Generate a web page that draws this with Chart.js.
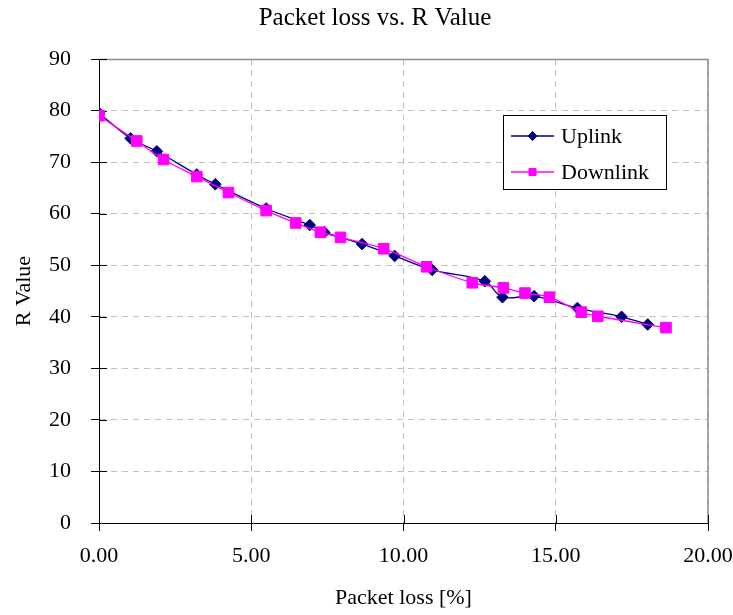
<!DOCTYPE html>
<html>
<head>
<meta charset="utf-8">
<title>Packet loss vs. R Value</title>
<script src="https://cdn.jsdelivr.net/npm/chart.js@4.4.0/dist/chart.umd.min.js"></script>
<style>
  html, body { margin: 0; padding: 0; background: #ffffff; }
  #wrap { width: 733px; height: 615px; }
</style>
</head>
<body>
<div id="wrap"><canvas id="chart" width="733" height="615"></canvas></div>
<script>
// Measured R value against packet loss, per direction
const uplinkLoss = [0.00, 1.04, 1.90, 3.21, 3.82, 5.49, 6.92, 7.40, 8.64, 9.71, 10.94, 12.67, 13.25, 14.29, 15.71, 17.16, 18.02];
const uplinkR    = [79.5, 74.6, 72.1, 67.6, 65.7, 61.0, 57.8, 56.4, 54.1, 51.8, 49.1, 46.9, 43.8, 44.0, 41.7, 40.0, 38.5];

const downlinkLoss = [0.00, 1.24, 2.12, 3.21, 4.25, 5.49, 6.46, 7.27, 7.93, 9.35, 10.76, 12.26, 13.28, 13.99, 14.79, 15.84, 16.38, 18.62];
const downlinkR    = [79.0, 74.1, 70.5, 67.2, 64.1, 60.6, 58.2, 56.4, 55.4, 53.2, 49.7, 46.6, 45.6, 44.6, 43.8, 40.9, 40.1, 37.9];

const seriesNames = ['Uplink', 'Downlink'];

const toPoints = (xs, ys) => xs.map((x, i) => ({ x: x, y: ys[i] }));

const SERIF = '"Liberation Serif", "Times New Roman", serif';
const NAVY = '#000080';
const MAGENTA = '#FF00FF';

// Frame on top/right, inward half of the tick marks, and the boxed legend
const decorations = {
  id: 'decorations',
  beforeDatasetsDraw(chart) {
    const { ctx, chartArea: a, scales } = chart;
    ctx.save();
    ctx.strokeStyle = '#8c8c8c';
    ctx.lineWidth = 1.5;
    ctx.beginPath();
    ctx.moveTo(a.left, a.top + 0.5);
    ctx.lineTo(a.right, a.top + 0.5);
    ctx.lineTo(a.right, a.bottom);
    ctx.stroke();

    ctx.strokeStyle = '#000000';
    ctx.lineWidth = 1;
    ctx.beginPath();
    scales.y.ticks.forEach(t => {
      const py = Math.round(scales.y.getPixelForValue(t.value)) + 0.5;
      ctx.moveTo(a.left, py);
      ctx.lineTo(a.left + 8, py);
    });
    scales.x.ticks.forEach(t => {
      const px = Math.round(scales.x.getPixelForValue(t.value)) + 0.5;
      ctx.moveTo(px, a.bottom);
      ctx.lineTo(px, a.bottom - 8);
    });
    ctx.stroke();
    ctx.restore();
  },
  afterDatasetsDraw(chart, args, opts) {
    const { ctx } = chart;
    const box = opts.box;
    ctx.save();
    ctx.fillStyle = '#ffffff';
    ctx.fillRect(box.x, box.y, box.w, box.h);
    ctx.strokeStyle = '#000000';
    ctx.lineWidth = 1;
    ctx.strokeRect(box.x + 0.5, box.y + 0.5, box.w, box.h);

    ctx.font = '22px ' + SERIF;
    ctx.textBaseline = 'middle';
    ctx.textAlign = 'left';
    chart.data.datasets.forEach((ds, i) => {
      const cy = box.y + opts.rowOffsets[i];
      const x0 = box.x + 8, x1 = box.x + 51;
      ctx.strokeStyle = ds.borderColor;
      ctx.lineWidth = 1.3;
      ctx.beginPath();
      ctx.moveTo(x0, cy);
      ctx.lineTo(x1, cy);
      ctx.stroke();
      ctx.fillStyle = ds.backgroundColor;
      ctx.strokeStyle = ds.borderColor;
      ctx.lineWidth = 1;
      Chart.helpers.drawPoint(ctx, {
        pointStyle: ds.pointStyle,
        radius: opts.markerRadius[i],
        rotation: 0,
        borderWidth: 1
      }, (x0 + x1) / 2, cy);
      ctx.fillStyle = '#000000';
      ctx.fillText(ds.label, box.x + 58, cy + 1);
    });
    ctx.restore();
  }
};

new Chart(document.getElementById('chart'), {
  type: 'scatter',
  data: {
    datasets: [
      {
        label: seriesNames[0],
        data: toPoints(uplinkLoss, uplinkR),
        showLine: true,
        borderColor: NAVY,
        backgroundColor: NAVY,
        borderWidth: 1.3,
        pointStyle: 'rectRot',
        pointRadius: 5.8,
        pointBorderWidth: 1,
        tension: 0.35,
        order: 1
      },
      {
        label: seriesNames[1],
        data: toPoints(downlinkLoss, downlinkR),
        showLine: true,
        borderColor: MAGENTA,
        backgroundColor: MAGENTA,
        borderWidth: 1.3,
        pointStyle: 'rect',
        pointRadius: 7.5,
        pointBorderWidth: 1,
        tension: 0.35,
        order: 0
      }
    ]
  },
  options: {
    responsive: false,
    animation: false,
    devicePixelRatio: 1,
    layout: { padding: { left: 42, right: 25, top: 0, bottom: 0 } },
    plugins: {
      legend: { display: false },
      tooltip: { enabled: false },
      title: {
        display: true,
        text: 'Packet loss vs. R Value',
        color: '#000000',
        font: { family: SERIF, size: 25, weight: 'normal', lineHeight: 1.2 },
        padding: { top: 3, bottom: 26 }
      },
      decorations: {
        box: { x: 503, y: 115, w: 163, h: 74 },
        rowOffsets: [21, 57],
        markerRadius: [4.5, 5]
      }
    },
    scales: {
      x: {
        type: 'linear',
        min: 0,
        max: 20,
        ticks: {
          stepSize: 5,
          color: '#000000',
          padding: 12,
          maxRotation: 0,
          font: { family: SERIF, size: 22 },
          callback: v => Number(v).toFixed(2)
        },
        grid: {
          color: '#c0c0c0',
          lineWidth: 1,
          tickColor: '#000000',
          tickLength: 8,
          tickWidth: 1,
          tickBorderDash: []
        },
        border: { display: true, color: '#000000', width: 1, dash: [6, 5] },
        title: {
          display: true,
          text: 'Packet loss [%]',
          color: '#000000',
          font: { family: SERIF, size: 22 },
          padding: { top: 0, bottom: 4 }
        },
        afterFit: s => { s.height = 92; s.paddingLeft = 0; s.paddingRight = 0; }
      },
      y: {
        type: 'linear',
        min: 0,
        max: 90,
        ticks: {
          stepSize: 10,
          color: '#000000',
          padding: 20,
          font: { family: SERIF, size: 22 }
        },
        grid: {
          color: '#c0c0c0',
          lineWidth: 1,
          tickColor: '#000000',
          tickLength: 8,
          tickWidth: 1,
          tickBorderDash: []
        },
        border: { display: true, color: '#000000', width: 1, dash: [6, 5] },
        title: {
          display: true,
          text: 'R Value',
          color: '#000000',
          font: { family: SERIF, size: 22 },
          padding: { top: -31, bottom: 0 }
        },
        afterFit: s => { s.width = 57; s.paddingTop = 0; s.paddingBottom = 0; }
      }
    }
  },
  plugins: [decorations]
});
</script>
</body>
</html>
